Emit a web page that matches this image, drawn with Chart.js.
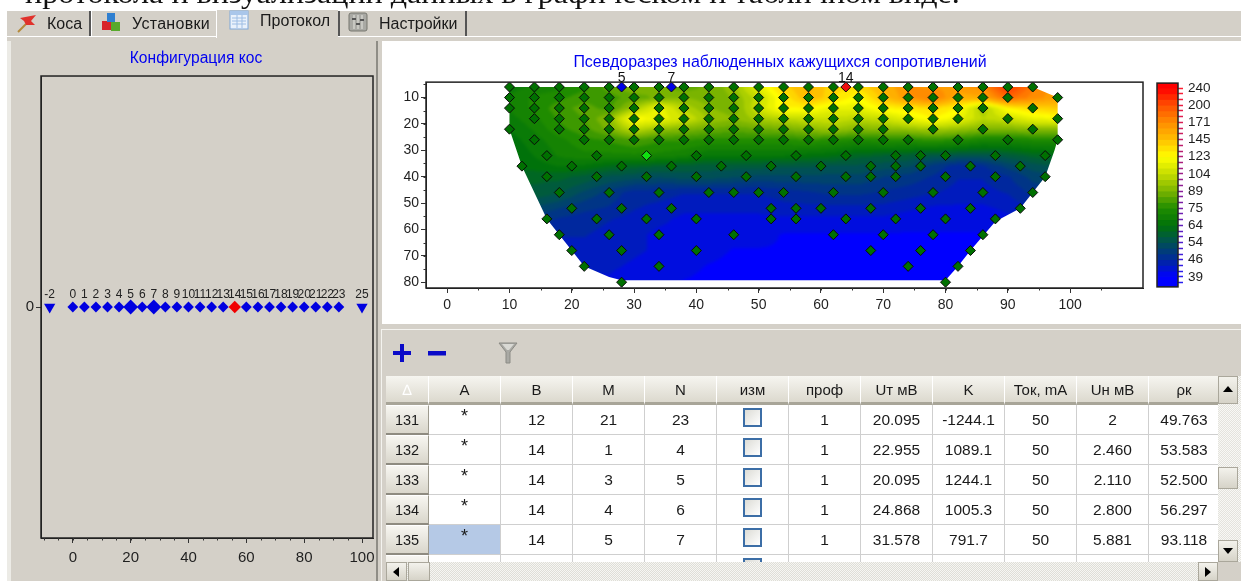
<!DOCTYPE html>
<html><head><meta charset="utf-8">
<script src="https://cdn.jsdelivr.net/npm/chart.js@4"></script>
<style>
html,body{margin:0;padding:0;background:#fff;width:1241px;height:581px;overflow:hidden;font-family:"Liberation Sans",Arial,sans-serif;color:#1a1a1a}
#page{position:absolute;left:0;top:0;width:1241px;height:581px;overflow:hidden;filter:blur(.3px)}
.a{position:absolute}
canvas{position:absolute;display:block}
.tabtext{position:absolute;font-size:16px;white-space:nowrap;color:#1a1a1a}
table{border-collapse:separate;border-spacing:0;table-layout:fixed;font-size:15.5px}
th,td{padding:0;text-align:center;overflow:hidden;font-weight:normal;box-sizing:border-box;border-right:1px solid #cfcfcf;border-bottom:1px solid #cfcfcf}
th{height:29px;background:linear-gradient(#f6f5f0,#dcd9ce);border-right:1px solid #fff;border-bottom:3px solid #a8a598;font-size:15px}
td{height:30px;background:#fff}
td.rh{font-size:14.5px;background:linear-gradient(#f7f6f1,#d9d6cb);border-right:1px solid #9d9a8e;border-bottom:2px solid #8e8b80;border-top:1px solid #fff}
td.sel{background:#b5c9e6}
.cb{display:inline-block;width:15px;height:15px;border:2px solid #3c6ea6;background:linear-gradient(135deg,#dcdcd6,#fff);vertical-align:middle;margin-top:-5px}
.ast{position:relative;top:-3px;font-size:18px}
.btn{position:absolute;background:linear-gradient(#f3f2ec,#d6d3c8);border:1px solid #aaa79b;box-sizing:border-box}
</style></head><body>
<div id="page">
<div class="a" id="topline" style="left:25px;top:-24px;font-family:'Liberation Serif',serif;font-size:30px;line-height:34px;white-space:nowrap;color:#111;transform-origin:0 0;transform:scaleX(1.07)">протокола и визуализации данных в графическом и табличном виде.</div>

<!-- tab strip -->
<div class="a" style="left:7px;top:11px;width:1234px;height:25px;background:#d4d0c8"></div>
<div class="a" style="left:7px;top:36px;width:1234px;height:1px;background:#fff"></div>
<div class="a" style="left:7px;top:37px;width:1234px;height:4px;background:#d4d0c8"></div>
<div class="a" style="left:89px;top:11px;width:2px;height:25px;background:#555"></div>
<div class="a" style="left:91px;top:11px;width:1px;height:25px;background:#fff"></div>
<div class="a" style="left:216px;top:10px;width:122px;height:28px;background:#d4d0c8;border-left:1px solid #fff;box-sizing:border-box"></div>
<div class="a" style="left:338px;top:11px;width:2px;height:25px;background:#555"></div>
<div class="a" style="left:465px;top:11px;width:2px;height:25px;background:#555"></div>
<svg class="a" style="left:14px;top:12px" width="24" height="24"><path d="M4 20 L12 12" stroke="#b58a3a" stroke-width="2"/><path d="M6 6 L22 3 L17 9 L21 13 L12 13 L10 9 Z" fill="#e0322c"/></svg>
<div class="tabtext" style="left:47px;top:15px">Коса</div>
<svg class="a" style="left:101px;top:12px" width="20" height="20"><rect x="1" y="9" width="9" height="9" fill="#d8232a"/><rect x="10" y="10" width="9" height="9" fill="#58a92c"/><rect x="6" y="1" width="8" height="9" fill="#2f7fd0"/></svg>
<div class="tabtext" style="left:132px;top:15px;letter-spacing:.3px">Установки</div>
<svg class="a" style="left:229px;top:10px" width="20" height="20"><rect x="1" y="1" width="18" height="18" fill="#e9f1fb" stroke="#7fa7d8"/><rect x="1" y="1" width="18" height="4" fill="#a9c6ea"/><path d="M3 8H17M3 11H17M3 14H17M8 5V18M13 5V18" stroke="#9dbde4"/></svg>
<div class="tabtext" style="left:260px;top:12px">Протокол</div>
<svg class="a" style="left:348px;top:12px" width="20" height="20"><rect x="1" y="1" width="18" height="18" rx="2" fill="#a9a9a4" stroke="#77776f"/><path d="M6 3V17M10 3V17M14 3V17" stroke="#e6e6e0"/><rect x="4" y="6" width="4" height="2" fill="#555"/><rect x="8" y="11" width="4" height="2" fill="#555"/><rect x="12" y="7" width="4" height="2" fill="#555"/></svg>
<div class="tabtext" style="left:379px;top:15px">Настройки</div>

<!-- panes -->
<div class="a" style="left:7px;top:41px;width:4px;height:540px;background:#ecebe6"></div>
<div class="a" style="left:11px;top:41px;width:371px;height:540px;background:#d4d0c8"></div>
<div class="a" style="left:376px;top:41px;width:2px;height:540px;background:#8f8d86"></div>
<div class="a" style="left:382px;top:41px;width:859px;height:283px;background:#fff"></div>
<div class="a" style="left:382px;top:324px;width:859px;height:5px;background:#d4d0c8"></div>
<div class="a" style="left:382px;top:329px;width:859px;height:1px;background:#f4f3ef"></div>
<div class="a" style="left:382px;top:330px;width:859px;height:251px;background:#d4d0c8"></div>
<div class="a" style="left:381px;top:329px;width:1px;height:252px;background:#f4f3ef"></div>

<!-- toolbar -->
<svg class="a" style="left:392px;top:343px" width="20" height="20"><path d="M8 1H12V8H19V12H12V19H8V12H1V8H8Z" fill="#0a0ac8"/></svg>
<svg class="a" style="left:427px;top:343px" width="20" height="20"><rect x="1" y="8" width="18" height="4.5" fill="#0a0ac8"/></svg>
<svg class="a" style="left:498px;top:342px" width="20" height="24"><path d="M1 1H19L12 10V21H8V10Z" fill="#a9a9a4" stroke="#8b8b85"/><path d="M4 2H16L11 8H9Z" fill="#d9d9d4"/></svg>

<!-- table -->
<div class="a" id="tablebox" style="left:386px;top:376px;width:832px;height:186px;overflow:hidden;background:#fff"></div>
<!-- vertical scrollbar -->
<div class="a" style="left:1218px;top:376px;width:23px;height:186px;background:repeating-conic-gradient(#e4e3dd 0 25%,#f8f8f5 0 50%) 0 0/2px 2px"></div>
<div class="btn" style="left:1218px;top:376px;width:20px;height:28px"></div>
<svg class="a" style="left:1222px;top:384px" width="12" height="10"><path d="M1 8H11L6 2Z" fill="#000"/></svg>
<div class="btn" style="left:1218px;top:467px;width:20px;height:22px"></div>
<div class="btn" style="left:1218px;top:540px;width:20px;height:22px"></div>
<svg class="a" style="left:1222px;top:546px" width="12" height="10"><path d="M1 2H11L6 8Z" fill="#000"/></svg>
<!-- horizontal scrollbar -->
<div class="a" style="left:386px;top:562px;width:855px;height:19px;background:repeating-conic-gradient(#dfded7 0 25%,#f6f6f3 0 50%) 0 0/2px 2px"></div>
<div class="btn" style="left:386px;top:562px;width:21px;height:19px"></div>
<svg class="a" style="left:391px;top:566px" width="10" height="12"><path d="M8 1V11L2 6Z" fill="#000"/></svg>
<div class="btn" style="left:408px;top:562px;width:22px;height:19px"></div>
<div class="btn" style="left:1198px;top:562px;width:20px;height:19px"></div>
<svg class="a" style="left:1203px;top:566px" width="10" height="12"><path d="M2 1V11L8 6Z" fill="#000"/></svg>
<div class="a" style="left:1218px;top:562px;width:23px;height:19px;background:#d4d0c8"></div>

<canvas id="leftChart" width="370" height="540" style="left:11px;top:41px"></canvas>
<canvas id="mainChart" width="794" height="280" style="left:383px;top:42px"></canvas>
<canvas id="barChart" width="91" height="230" style="left:1150px;top:70px"></canvas>
</div>

<script>
// ---------- electrode layout (left chart) ----------
const electrodeLabels = ['-2','0','1','2','3','4','5','6','7','8','9','10','11','12','13','14','15','16','17','18','19','20','21','22','23','25'];
const electrodePositions = [-8,0,4,8,12,16,20,24,28,32,36,40,44,48,52,56,60,64,68,72,76,80,84,88,92,100];
const endElectrodes = ['-2','25'];
const activeElectrodes = ['5','7'];
const currentElectrode = ['14'];
const leftXTicks = [0,20,40,60,80,100];

// ---------- measurement points, x positions per depth (main chart) ----------
const depth06 = [10,14,18,22,26,30,34,38,42,46,50,54,58,62,66,70,74,78,82,86,90,94];
const depth10 = [10,14,18,22,26,30,34,38,42,46,50,54,58,62,66,70,74,78,82,86,90,98];
const depth14 = [10,14,18,22,26,30,34,38,42,46,50,54,58,62,66,70,74,78,82,86,94];
const depth18 = [14,18,22,26,30,34,38,42,46,50,54,58,62,66,70,74,78,82,90,98];
const depth22 = [10,18,22,26,30,34,38,42,46,50,54,58,62,66,70,78,86,94];
const depth26 = [14,22,26,30,34,38,42,46,50,54,58,62,66,70,74,82,90,98];
const depth32 = [16,24,40,48,56,64,72,76,80,88,96];
const depth36 = [12,20,28,36,44,52,60,68,72,76,84,92];
const depth40 = [16,24,32,40,48,56,64,68,72,80,88,96];
const depth46 = [18,26,34,42,46,50,54,62,70,78,86,94];
const depth52 = [20,28,36,52,56,60,68,76,84,92];
const depth56 = [16,24,32,40,52,56,64,72,80,88];
const depth62 = [18,26,34,46,62,70,78,86];
const depth68 = [20,28,40,68,76,84];
const depth74 = [22,34,74,82];
const depth80 = [28,80];
const pointDepths = [6,10,14,18,22,26,32,36,40,46,52,56,62,68,74,80];
const pointColumns = [depth06,depth10,depth14,depth18,depth22,depth26,depth32,depth36,depth40,depth46,depth52,depth56,depth62,depth68,depth74,depth80];
const bluePointsX = [28,36];   const bluePointsY = [6,6];   const blueLabels = ['5','7'];
const redPointX = [64];        const redPointY = [6];       const redLabels = ['14'];
const limePointX = [32];       const limePointY = [32];

// ---------- apparent resistivity read from the section (columns x=10..98 step 4) ----------
const fieldX = [10,14,18,22,26,30,34,38,42,46,50,54,58,62,66,70,74,78,82,86,90,94,98];
const fieldDepths = [6,10,14,18,22,26,32,36,40,46,52,56,62,68,74,80];
const row06 = [68,70,72,76,84,92,88,84,88,94,115,138,152,136,136,150,168,165,165,170,215,178,160];
const row10 = [70,74,76,80,80,84,88,92,88,92,104,128,150,135,122,145,165,180,152,156,188,172,160];
const row14 = [70,74,80,84,80,96,118,100,92,88,108,126,126,116,116,126,130,136,126,96,126,136,142];
const row18 = [68,72,78,82,92,124,118,108,96,92,98,102,106,106,102,106,116,126,116,102,106,116,120];
const row22 = [66,70,76,80,88,104,94,90,86,84,86,88,92,96,90,92,94,98,94,90,90,92,92];
const row26 = [64,68,72,76,78,82,78,78,76,76,76,76,78,76,74,76,76,78,76,72,72,74,74];
const row32 = [62,66,70,72,72,72,72,70,66,66,66,66,64,63,60,59,58,56,55,55,57,60,62];
const row36 = [62,64,66,65,62,60,59,58,57,57,57,56,56,55,55,54,53,49,46,47,51,54,56];
const row40 = [60,60,60,58,55,54,53,54,54,53,52,52,52,52,52,50,49,47,45,45,47,51,52];
const row46 = [58,58,56,52,49,46,46,45,45,45,45,46,47,48,48,47,46,45,44,44,45,48,50];
const row52 = [54,52,50,48,47,45,44,43,43,43,43,44,44,44,44,44,43,42,42,42,43,45,47];
const row56 = [50,49,47,46,45,44,43,42,42,42,42,42,42,42,42,42,41,41,41,41,42,42,44];
const row62 = [47,46,45,45,44,43,42,42,41,41,41,40,40,40,40,40,40,40,40,40,40,40,40];
const row68 = [45,45,44,44,44,43,42,41,41,40,40,40,39.5,39.5,39.5,39.5,39.5,39.5,39.5,39.5,39,39,39];
const row74 = [44,44,43,43,43,42,41,41,40,39.5,39,39,39,39,39,39,39,39,39,39,39,39,39];
const row80 = [43,43,42,42,42,41,41,40,39.5,39,39,39,39,39,39,39,39,39,39,39,39,39,39];
const fieldRows = [row06,row10,row14,row18,row22,row26,row32,row36,row40,row46,row52,row56,row62,row68,row74,row80];

// outline of the contoured region
const outlineX = [10,94,96,98,98,97.5,96,94,92,88,84,82,80,28,26,22,20,18,16,12,10];
const outlineY = [6,6,8,10,26,30,40,46,52,57,68,74,79.3,79.3,78,74,68,62,56,36,22];

// ---------- colour legend ----------
const legendLabels = [39,46,54,64,75,89,104,123,145,171,200,240];
const legendColors = ['#0000ff','#00289e','#005055','#00720a','#1f8c00','#7ab400','#c4dc00','#ffff00','#ffc000','#ff8c00','#ff5000','#ff0000'];

// ---------- table ----------
const tableHeaders = ['∆','A','B','M','N','изм','проф','Uт мВ','K','Ток, mA','Uн мВ','ρк'];
const rowIds = ['131','132','133','134','135',''];
const colA = ['*','*','*','*','*',''];
const colB = ['12','14','14','14','14',''];
const colM = ['21','1','3','4','5',''];
const colN = ['23','4','5','6','7',''];
const colProf = ['1','1','1','1','1',''];
const colUt = ['20.095','22.955','20.095','24.868','31.578',''];
const colK = ['-1244.1','1089.1','1244.1','1005.3','791.7',''];
const colI = ['50','50','50','50','50',''];
const colUn = ['2','2.460','2.110','2.800','5.881',''];
const colRho = ['49.763','53.583','52.500','56.297','93.118',''];

// ---------- build table ----------
(function(){
  const widths=[43,72,72,72,72,72,72,72,72,72,72,71];
  let h='<table style="width:832px"><colgroup>'+widths.map(w=>'<col style="width:'+w+'px">').join('')+'</colgroup><thead><tr>';
  tableHeaders.forEach((t,i)=>{h+='<th'+(i==0?' style="color:#fff"':'')+'>'+t+'</th>'});
  h+='</tr></thead><tbody>';
  rowIds.forEach((id,r)=>{
    h+='<tr><td class="rh">'+id+'</td>';
    h+='<td'+(r==4?' class="sel"':'')+'><span class="ast">'+colA[r]+'</span></td>';
    h+='<td>'+colB[r]+'</td><td>'+colM[r]+'</td><td>'+colN[r]+'</td>';
    h+='<td><span class="cb"></span></td>';
    h+='<td>'+colProf[r]+'</td><td>'+colUt[r]+'</td><td>'+colK[r]+'</td><td>'+colI[r]+'</td><td>'+colUn[r]+'</td><td>'+colRho[r]+'</td></tr>';
  });
  h+='</tbody></table>';
  document.getElementById('tablebox').innerHTML=h;
})();

// ---------- colour helpers ----------
function hexRgb(h){return [parseInt(h.slice(1,3),16),parseInt(h.slice(3,5),16),parseInt(h.slice(5,7),16)];}
const legendRgb = legendColors.map(hexRgb);
function legendRamp(u){ // u = legend position in label units (0..11)
  const t=Math.max(0,Math.min(11,u)), i=Math.min(10,Math.floor(t)), f=t-i;
  return legendRgb[i].map((c,k)=>Math.round(c+(legendRgb[i+1][k]-c)*f));
}
function valueToLegend(v){
  if(v<=legendLabels[0])return 0;
  for(let i=0;i<11;i++){ if(v<=legendLabels[i+1]) return i+(v-legendLabels[i])/(legendLabels[i+1]-legendLabels[i]); }
  return 11;
}
function bandColor(v){ // banded like the legend: three bands per label
  const u=valueToLegend(v);
  return legendRamp(Math.round(u*3)/3);
}
function fieldAt(x,y){
  let cx=0; while(cx<fieldX.length-2 && x>fieldX[cx+1])cx++;
  let cy=0; while(cy<fieldDepths.length-2 && y>fieldDepths[cy+1])cy++;
  const fx=Math.max(0,Math.min(1,(x-fieldX[cx])/(fieldX[cx+1]-fieldX[cx])));
  const fy=Math.max(0,Math.min(1,(y-fieldDepths[cy])/(fieldDepths[cy+1]-fieldDepths[cy])));
  const a=fieldRows[cy][cx],b=fieldRows[cy][cx+1],c=fieldRows[cy+1][cx],d=fieldRows[cy+1][cx+1];
  return (a*(1-fx)+b*fx)*(1-fy)+(c*(1-fx)+d*fx)*fy;
}

// ---------- plugins ----------
const contourPlugin={id:'contour',beforeDatasetsDraw(chart){
  const {ctx,chartArea:A,scales:{x,y}}=chart;
  const w=Math.ceil(A.right-A.left),h=Math.ceil(A.bottom-A.top);
  const off=document.createElement('canvas');off.width=w;off.height=h;
  const oc=off.getContext('2d'),img=oc.createImageData(w,h);
  for(let j=0;j<h;j++){const dy=y.getValueForPixel(A.top+j+.5);
    for(let i=0;i<w;i++){const dx=x.getValueForPixel(A.left+i+.5);
      const c=bandColor(fieldAt(dx,dy)),p=(j*w+i)*4;
      img.data[p]=c[0];img.data[p+1]=c[1];img.data[p+2]=c[2];img.data[p+3]=255;}}
  oc.putImageData(img,0,0);
  ctx.save();ctx.beginPath();
  outlineX.forEach((vx,i)=>{const px=x.getPixelForValue(vx),py=y.getPixelForValue(outlineY[i]);i?ctx.lineTo(px,py):ctx.moveTo(px,py);});
  ctx.closePath();ctx.clip();
  ctx.filter='blur(1.5px)';
  ctx.drawImage(off,A.left,A.top);
  ctx.restore();
}};
const framePlugin={id:'frame',afterDraw(chart){
  const {ctx,chartArea:A}=chart;ctx.save();ctx.strokeStyle='#222';ctx.lineWidth=1.5;
  ctx.strokeRect(A.left,A.top,A.right-A.left,A.bottom-A.top);ctx.restore();
}};
function minorTicks(xFrom,xTo,xStep,yFrom,yTo,yStep){return {id:'minorTicks',afterDraw(chart){
  const {ctx,chartArea:A,scales:{x,y}}=chart;ctx.save();ctx.strokeStyle='#333';ctx.lineWidth=1;ctx.beginPath();
  for(let v=xFrom;v<=xTo;v+=xStep){const p=Math.round(x.getPixelForValue(v))+.5;ctx.moveTo(p,A.bottom);ctx.lineTo(p,A.bottom+2.5);}
  if(yStep)for(let v=yFrom;v<=yTo;v+=yStep){const p=Math.round(y.getPixelForValue(v))+.5;ctx.moveTo(A.left,p);ctx.lineTo(A.left-2.5,p);}
  ctx.stroke();ctx.restore();
}};}
const pointLabelsMain={id:'pointLabelsMain',afterDraw(chart){
  const {ctx,scales:{x,y}}=chart;ctx.save();ctx.fillStyle='#111';ctx.font='14px "Liberation Sans"';ctx.textAlign='center';ctx.textBaseline='alphabetic';
  bluePointsX.forEach((v,i)=>ctx.fillText(blueLabels[i],x.getPixelForValue(v),y.getPixelForValue(bluePointsY[i])-5));
  redPointX.forEach((v,i)=>ctx.fillText(redLabels[i],x.getPixelForValue(v),y.getPixelForValue(redPointY[i])-5));
  ctx.restore();
}};
const electrodeText={id:'electrodeText',afterDraw(chart){
  const {ctx,scales:{x,y}}=chart;ctx.save();ctx.fillStyle='#222';ctx.font='12px "Liberation Sans"';ctx.textAlign='center';ctx.textBaseline='middle';
  electrodePositions.forEach((v,i)=>ctx.fillText(electrodeLabels[i],x.getPixelForValue(v),y.getPixelForValue(0)-12.5));
  ctx.restore();
}};

Chart.defaults.font.family='"Liberation Sans"';
Chart.defaults.color='#1f1f1f';
Chart.defaults.animation=false;
Chart.defaults.responsive=false;
Chart.defaults.devicePixelRatio=1;

// ---------- main section chart ----------
const greenPoints=[];
pointColumns.forEach((xs,i)=>xs.forEach(v=>greenPoints.push({x:v,y:pointDepths[i]})));
const pts=(xs,ys)=>xs.map((v,i)=>({x:v,y:ys[i]}));
const diamond=(data,color)=>({data,pointStyle:'rectRot',pointRadius:5,pointBackgroundColor:color,pointBorderColor:'#0a0a0a',pointBorderWidth:1,showLine:false,clip:false});
new Chart(document.getElementById('mainChart'),{
  type:'scatter',
  data:{datasets:[diamond(greenPoints,'#007000'),diamond(pts(bluePointsX,bluePointsY),'#0000e6'),diamond(pts(redPointX,redPointY),'#f01010'),diamond(pts(limePointX,limePointY),'#10e010')]},
  options:{
    layout:{padding:{left:0,right:0,top:0,bottom:0}},
    plugins:{legend:{display:false},tooltip:{enabled:false},
      title:{display:true,text:'Псевдоразрез наблюденных кажущихся сопротивлений',color:'#0000f0',font:{size:15.95,weight:'normal'},padding:{top:11,bottom:10}}},
    scales:{
      x:{type:'linear',min:-3.4,max:111.7,grid:{drawOnChartArea:false,tickLength:5,tickColor:c=>c.tick&&c.tick.value<=100?'#333':'transparent'},border:{color:'#222'},
        ticks:{stepSize:10,includeBounds:false,maxRotation:0,autoSkip:false,padding:4,font:{size:14},callback:v=>v<=100?v:''},
        afterFit(s){s.height=34;}},
      y:{type:'linear',reverse:true,min:4.16,max:82.2,grid:{drawOnChartArea:false,tickLength:5,tickColor:'#333'},border:{color:'#222'},
        ticks:{stepSize:10,includeBounds:false,autoSkip:false,padding:2,font:{size:14}},
        afterFit(s){s.width=43;}},
      spacer:{type:'linear',position:'right',grid:{display:false},border:{display:false},ticks:{display:false},
        afterFit(s){s.width=34;}}
    }
  },
  plugins:[contourPlugin,framePlugin,minorTicks(-0,105,5,5,80,5),pointLabelsMain]
});

// ---------- electrode chart ----------
const byLabel=list=>list.map(l=>({x:electrodePositions[electrodeLabels.indexOf(l)],y:0}));
const regular=electrodeLabels.filter(l=>!endElectrodes.includes(l)&&!activeElectrodes.includes(l)&&!currentElectrode.includes(l));
const ds=(data,style,r,color,rot)=>({data,pointStyle:style,pointRadius:r,pointRotation:rot||0,pointBackgroundColor:color,pointBorderColor:color,pointBorderWidth:0,showLine:false});
new Chart(document.getElementById('leftChart'),{
  type:'scatter',
  data:{datasets:[ds(byLabel(regular),'rectRot',5.4,'#0000e0'),ds(byLabel(activeElectrodes),'rectRot',7.4,'#0000e0'),ds(byLabel(currentElectrode),'rectRot',6.2,'#f00000'),ds(byLabel(endElectrodes),'triangle',6.5,'#0000e0',180)]},
  options:{
    layout:{padding:{left:8,right:8,top:0,bottom:0}},
    plugins:{legend:{display:false},tooltip:{enabled:false},
      title:{display:true,text:'Конфигурация кос',color:'#0000f0',font:{size:15.6,weight:'normal'},padding:{top:8,bottom:8.3}}},
    scales:{
      x:{type:'linear',min:-11,max:103.8,grid:{drawOnChartArea:false,tickLength:5,tickColor:'#333'},border:{color:'#222'},
        ticks:{stepSize:20,includeBounds:false,maxRotation:0,autoSkip:false,padding:6,font:{size:15},callback:v=>leftXTicks.includes(v)?v:''},
        afterFit(s){s.height=43;}},
      y:{type:'linear',min:-1,max:1,grid:{drawOnChartArea:false,tickLength:5,tickColor:c=>c.tick&&c.tick.value===0?'#333':'transparent'},border:{color:'#222'},
        ticks:{stepSize:1,includeBounds:false,autoSkip:false,padding:2,font:{size:15},callback:v=>v===0?'0':''},
        afterFit(s){s.width=22;}}
    }
  },
  plugins:[framePlugin,minorTicks(-10,100,5,0,0,0),electrodeText]
});

// ---------- colour bar ----------
const bandStarts=[];for(let b=-2;b<=33;b++)bandStarts.push(b);
new Chart(document.getElementById('barChart'),{
  type:'bar',
  data:{labels:['c'],datasets:bandStarts.map(b=>{
    const c=legendRamp((b+.5)/3);
    return {data:[[b,b+1.1]],backgroundColor:'rgb('+c.join(',')+')',borderWidth:0,barPercentage:1,categoryPercentage:1,grouped:false,order:-b};
  })},
  options:{
    layout:{padding:{left:7,right:0,top:12,bottom:13}},
    plugins:{legend:{display:false},tooltip:{enabled:false}},
    scales:{
      x:{display:false},
      y:{type:'linear',position:'right',min:-1.74,max:33.87,
        grid:{drawOnChartArea:false,tickLength:5,tickWidth:1.5,tickColor:c=>{const v=c.tick?c.tick.value:0;const t=Math.max(0,Math.min(1,v/33));return 'rgb('+Math.round(40+215*t)+',30,'+Math.round(240-190*t)+')';}},
        border:{display:false},
        ticks:{stepSize:1,includeBounds:false,autoSkip:false,padding:5,font:{size:13.5},callback:v=>v%3===0?legendLabels[v/3]:''},
        afterFit(s){s.width=63;}}
    }
  },
  plugins:[framePlugin]
});
</script>
</body></html>
